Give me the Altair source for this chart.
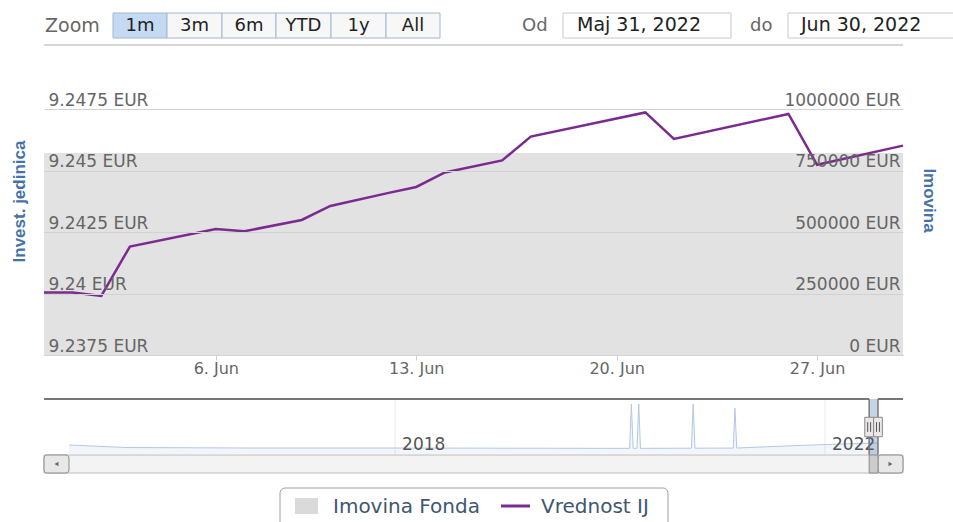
import altair as alt
import pandas as pd

# ---------------- data ----------------
dates = ["2022-05-31", "2022-06-01", "2022-06-02", "2022-06-03", "2022-06-06", "2022-06-07",
         "2022-06-09", "2022-06-10", "2022-06-12", "2022-06-13", "2022-06-14", "2022-06-16",
         "2022-06-17", "2022-06-21", "2022-06-22", "2022-06-26", "2022-06-27", "2022-06-30"]
vrednost_ij = [9.24004, 9.24004, 9.23990, 9.24191, 9.24262, 9.24253,
               9.24299, 9.24356, 9.24408, 9.24433, 9.24492, 9.24541,
               9.24638, 9.24736, 9.24628, 9.24730, 9.24523, 9.24601]
imovina_fonda = [821000, 821000, 821000, 821000, 821000, 821000,
                 821000, 821000, 821000, 821000, 821000, 821000,
                 821000, 821000, 821000, 821000, 821000, 821000]

nav_dates = ["2014-12-20", "2015-07-01", "2016-08-25", "2018-01-01", "2019-11-30",
             "2020-03-08", "2020-03-14", "2020-03-20", "2020-04-02", "2020-04-08", "2020-04-14",
             "2020-10-04", "2020-10-10", "2020-10-16", "2021-02-23", "2021-03-01", "2021-03-07",
             "2021-04-15", "2022-01-01", "2022-06-30"]
nav_values = [667000, 481000, 444000, 444000, 420000,
              420000, 3700000, 420000, 420000, 3700000, 420000,
              430000, 3700000, 430000, 440000, 3390000, 440000,
              481000, 704000, 815000]

y_ticks_left = [9.2375, 9.24, 9.2425, 9.245, 9.2475]
y_ticks_right = [0, 250000, 500000, 750000, 1000000]
x_ticks = ["2022-06-06", "2022-06-13", "2022-06-20", "2022-06-27"]
nav_year_ticks = ["2018-01-01", "2022-01-01"]
nav_year_labels = ["2018", "2022"]
zoom_buttons = ["1m", "3m", "6m", "YTD", "1y", "All"]
range_from, range_to = "2022-05-31", "2022-06-30"
range_from_label, range_to_label = "Maj 31, 2022", "Jun 30, 2022"
series_names = ["Imovina Fonda", "Vrednost IJ"]
axis_titles = ["Invest. jedinica", "Imovina"]

# ---------------- styles ----------------
PURPLE = "#7b2b8f"
AREA_GREY = "#e2e2e2"
LABEL_GREY = "#666666"
TITLE_BLUE = "#4572A7"
FONT = "DejaVu Sans"
W, H = 859, 246
L, T = 44, 109


def dt(s):
    y, m, d = (int(v) for v in s.split("-"))
    return alt.DateTime(year=y, month=m, date=d, utc=True)


main_df = pd.DataFrame({"date": dates, "ij": vrednost_ij, "imovina": imovina_fonda})
nav_df = pd.DataFrame({"date": nav_dates, "v": nav_values})
years_df = pd.DataFrame({"d": nav_year_ticks, "lab": nav_year_labels})
win_df = pd.DataFrame({"s": [range_from], "e": [range_to]})
one = pd.DataFrame({"k": [0]})

x_main = alt.Scale(type="utc", domain=[dt(range_from), dt(range_to)])
x_nav = alt.Scale(type="utc", domain=[dt("2014-09-26"), dt("2022-09-23")])
y_nav = alt.Scale(domain=[0, 4000000], range=[345, 291], nice=False, zero=False)

# ---------------- main series ----------------
area = alt.Chart(main_df).mark_area(color=AREA_GREY, opacity=1).encode(
    x=alt.X("date:T", scale=x_main, axis=None),
    y=alt.Y("imovina:Q", scale=alt.Scale(domain=[0, 1000000], nice=False),
            axis=alt.Axis(orient="right", values=y_ticks_right,
                          labelExpr="datum.value + ' EUR'", labelAlign="right",
                          labelBaseline="alphabetic", labelPadding=-3, labelOffset=-4,
                          ticks=False, tickSize=0, domain=False, grid=False,
                          labelColor=LABEL_GREY, labelFont=FONT, labelFontSize=17,
                          labelOverlap=False, labelFlush=False,
                          title=axis_titles[1], titleColor=TITLE_BLUE,
                          titleFont="Liberation Sans", titleFontSize=17, titleFontWeight="bold",
                          titleAngle=90, titleX=25, titleY=91, titleAlign="center",
                          titleBaseline="middle", zindex=1)),
)

line = alt.Chart(main_df).mark_line(color=PURPLE, strokeWidth=2.5).encode(
    x=alt.X("date:T", scale=x_main,
            axis=alt.Axis(values=[dt(v) for v in x_ticks], format="%-d. %b",
                          labelColor=LABEL_GREY, labelFont=FONT, labelFontSize=16,
                          labelBaseline="alphabetic", labelPadding=13, labelFlush=False,
                          domainColor="#C0D0E0", domainWidth=1, tickColor="#C0D0E0",
                          tickSize=5, grid=False, title=None)),
    y=alt.Y("ij:Q", scale=alt.Scale(domain=[9.2375, 9.2475], nice=False, zero=False),
            axis=alt.Axis(orient="left", values=y_ticks_left,
                          labelExpr="datum.value + ' EUR'", labelAlign="left",
                          labelBaseline="alphabetic", labelPadding=-4, labelOffset=-4,
                          ticks=False, tickSize=0, domain=False, grid=True,
                          gridColor="#d2d2d2", gridWidth=1,
                          labelColor=LABEL_GREY, labelFont=FONT, labelFontSize=17,
                          labelOverlap=False, labelFlush=False,
                          title=axis_titles[0], titleColor=TITLE_BLUE,
                          titleFont="Liberation Sans", titleFontSize=17, titleFontWeight="bold",
                          titleAngle=270, titleX=-25, titleY=92, titleAlign="center",
                          titleBaseline="middle", zindex=1)),
)


# ---------------- decoration helpers (absolute page coordinates) ----------------
def box(x1, y1, x2, y2, **kw):
    return alt.Chart(one).mark_rect(**kw).encode(
        x=alt.value(x1 - L), x2=alt.value(x2 - L), y=alt.value(y1 - T), y2=alt.value(y2 - T))


def hline(x1, x2, y, **kw):
    return alt.Chart(one).mark_rule(**kw).encode(
        x=alt.value(x1 - L), x2=alt.value(x2 - L), y=alt.value(y - T))


def txt(s, x, y, **kw):
    base = dict(font=FONT, fontSize=18, baseline="alphabetic", align="left")
    base.update(kw)
    return alt.Chart(one).mark_text(text=s, **base).encode(x=alt.value(x - L), y=alt.value(y - T))


def sym(shape, x, y, **kw):
    return alt.Chart(one).mark_point(shape=shape, **kw).encode(x=alt.value(x - L), y=alt.value(y - T))


deco = []
# range selector
deco.append(txt("Zoom", 45, 32, fill=LABEL_GREY, fontSize=19))
edges = [113, 167, 222, 276, 331, 386, 440]
for i, lab in enumerate(zoom_buttons):
    deco.append(box(edges[i], 13, edges[i + 1], 38,
                    fill="#c5daf2" if i == 0 else "#f7f7f7", stroke="#a3b6cf", strokeWidth=1))
    deco.append(txt(lab, (edges[i] + edges[i + 1]) / 2, 31, align="center", fill="#222222"))
deco.append(txt("Od", 522, 31, fill=LABEL_GREY))
deco.append(box(563, 13, 731, 38, fill="white", stroke="#c8c8c8", strokeWidth=1))
deco.append(txt(range_from_label, 577, 31, fill="#222222", fontSize=19))
deco.append(txt("do", 750, 31, fill=LABEL_GREY))
deco.append(box(788, 13, 960, 38, fill="white", stroke="#c8c8c8", strokeWidth=1))
deco.append(txt(range_to_label, 801, 31, fill="#222222", fontSize=19))
deco.append(hline(44, 903, 45, color="#d6d6d6", strokeWidth=2))

# ---------------- navigator ----------------
nav_grid = alt.Chart(years_df).mark_rule(color="#ececec", strokeWidth=1).encode(
    x=alt.X("d:T", scale=x_nav, axis=None), y=alt.value(290), y2=alt.value(346))
nav_area = alt.Chart(nav_df).mark_area(color="#4572A7", opacity=0.07).encode(
    x=alt.X("date:T", scale=x_nav, axis=None),
    y=alt.Y("v:Q", scale=y_nav, axis=None))
nav_line = alt.Chart(nav_df).mark_line(color="#b4c8e2", strokeWidth=1).encode(
    x=alt.X("date:T", scale=x_nav, axis=None),
    y=alt.Y("v:Q", scale=y_nav, axis=None))
nav_labels = alt.Chart(years_df).mark_text(align="left", baseline="alphabetic", dx=7,
                                           font=FONT, fontSize=17, fill="#555555").encode(
    x=alt.X("d:T", scale=x_nav, axis=None), y=alt.value(341), text="lab:N")
sel = alt.Chart(win_df).mark_rect(fill="#4572A7", opacity=0.3).encode(
    x=alt.X("s:T", scale=x_nav, axis=None), x2="e:T", y=alt.value(290), y2=alt.value(346))
frame_l = alt.Chart(win_df).mark_rule(color="#777777", strokeWidth=2).encode(
    x=alt.X("s:T", scale=x_nav, axis=None), x2=alt.value(0), y=alt.value(290))
frame_r = alt.Chart(win_df).mark_rule(color="#777777", strokeWidth=2).encode(
    x=alt.X("e:T", scale=x_nav, axis=None), x2=alt.value(W), y=alt.value(290))
frame_v1 = alt.Chart(win_df).mark_rule(color="#777777", strokeWidth=1.5).encode(
    x=alt.X("s:T", scale=x_nav, axis=None), y=alt.value(290), y2=alt.value(346))
frame_v2 = alt.Chart(win_df).mark_rule(color="#777777", strokeWidth=1.5).encode(
    x=alt.X("e:T", scale=x_nav, axis=None), y=alt.value(290), y2=alt.value(346))

# scrollbar
deco_nav = []
deco_nav.append(box(44, 455, 903, 473, fill="#f3f3f3", stroke="#bbbbbb", strokeWidth=1))
deco_nav.append(box(44, 455, 69, 473, fill="#e8e8e8", stroke="#8a8a8a", strokeWidth=1, cornerRadius=3))
deco_nav.append(box(878, 455, 903, 473, fill="#e8e8e8", stroke="#8a8a8a", strokeWidth=1, cornerRadius=3))
deco_nav.append(sym("triangle-left", 56.5, 464, filled=True, fill="#333333", size=22))
deco_nav.append(sym("triangle-right", 890.5, 464, filled=True, fill="#333333", size=22))

thumb = alt.Chart(win_df).mark_rect(fill="#cccccc", stroke="#8a8a8a", strokeWidth=1).encode(
    x=alt.X("s:T", scale=x_nav, axis=None), x2="e:T", y=alt.value(346), y2=alt.value(364))

handle_path = "M-0.45,-1L0.45,-1L0.45,1L-0.45,1Z"
grip_path = "M-0.15,-0.5L-0.15,0.5M0.15,-0.5L0.15,0.5"
handles = []
for f in ["s", "e"]:
    handles.append(alt.Chart(win_df).mark_point(shape=handle_path, filled=True, fill="#ebe7e8",
                                                stroke="#8a8a8a", strokeWidth=1, size=380, opacity=1).encode(
        x=alt.X(f + ":T", scale=x_nav, axis=None), y=alt.value(318)))
    handles.append(alt.Chart(win_df).mark_point(shape=grip_path, filled=False, stroke="#555555",
                                                strokeWidth=1, size=380, opacity=1).encode(
        x=alt.X(f + ":T", scale=x_nav, axis=None), y=alt.value(318)))

# ---------------- legend ----------------
leg = []
leg.append(box(280, 488, 668, 532, fill="white", stroke="#a0a0a0", strokeWidth=1, cornerRadius=5))
leg.append(box(295, 498, 318, 514, fill="#dadada"))
leg.append(txt(series_names[0], 333, 513, fill="#3e576f", fontSize=20))
leg.append(hline(501, 530, 506, color=PURPLE, strokeWidth=3))
leg.append(txt(series_names[1], 541, 513, fill="#3e576f", fontSize=20))

layers = ([area, line] + deco + [nav_grid, nav_area, nav_line, nav_labels, sel,
                                 frame_l, frame_r, frame_v1, frame_v2]
          + deco_nav + [thumb] + handles + leg)

chart = alt.layer(*layers).resolve_scale(x="independent", y="independent").properties(
    width=W, height=H,
    padding={"left": L, "top": T, "right": 953 - L - W, "bottom": 522 - T - H},
    autosize=alt.AutoSizeParams(type="none"),
    background="white",
).configure_view(stroke=None)

chart.save("out.html", embed_options={"renderer": "svg", "actions": False})
